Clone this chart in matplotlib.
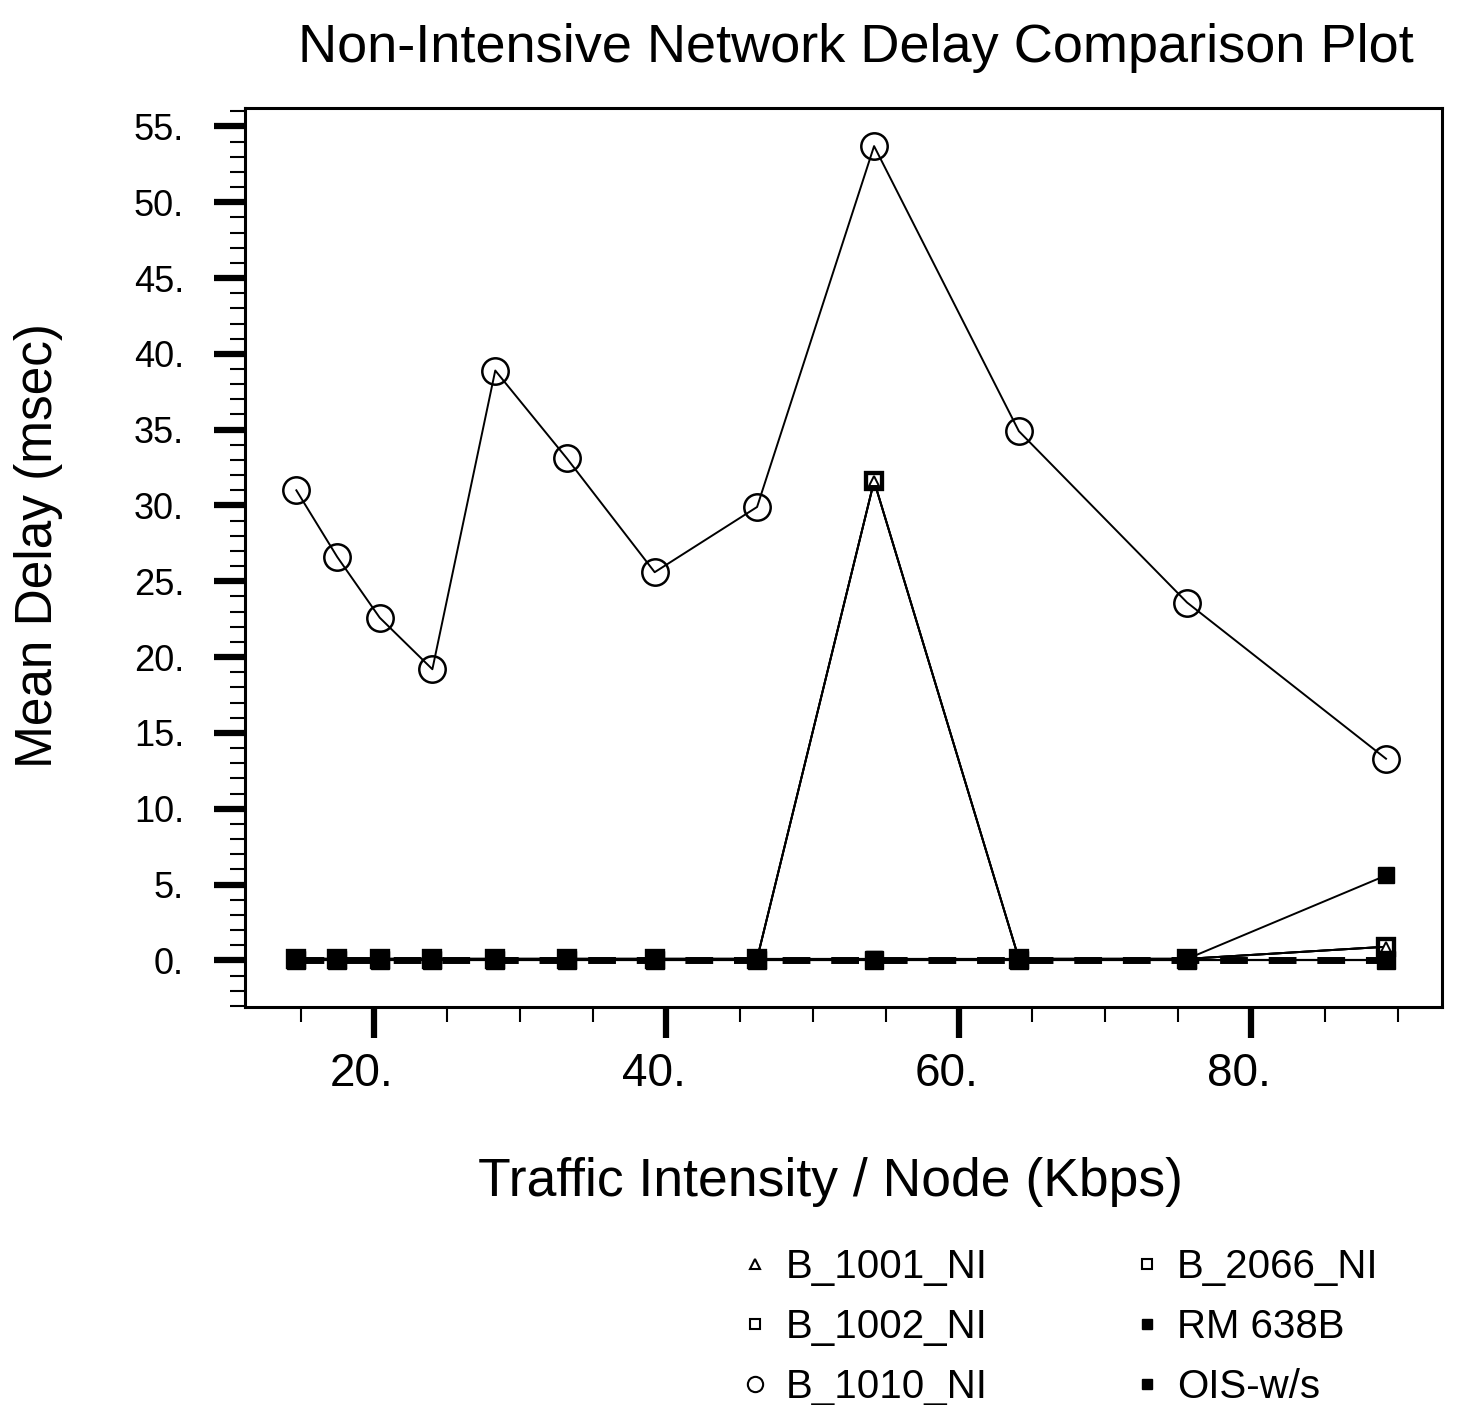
import matplotlib
matplotlib.use("Agg")
import matplotlib.pyplot as plt
from matplotlib.lines import Line2D
from matplotlib.ticker import MultipleLocator, FixedLocator
from matplotlib.transforms import ScaledTranslation

plt.rcParams["font.family"] = ["Liberation Sans", "DejaVu Sans"]

# ---------------------------------------------------------------------------
# data
# ---------------------------------------------------------------------------
traffic_kbps = [14.7, 17.5, 20.4, 24.0, 28.3, 33.2, 39.2, 46.2, 54.2, 64.1, 75.6, 89.2]

b_1001_ni = [0.1, 0.1, 0.1, 0.1, 0.1, 0.1, 0.1, 0.1, 31.6, 0.1, 0.1, 0.9]
b_1002_ni = [0.1, 0.1, 0.1, 0.1, 0.1, 0.1, 0.1, 0.1, 31.6, 0.1, 0.1, 0.9]
b_1010_ni = [31.0, 26.6, 22.6, 19.2, 38.9, 33.1, 25.6, 29.9, 53.7, 34.9, 23.6, 13.3]
b_2066_ni = [0.1, 0.1, 0.1, 0.1, 0.1, 0.1, 0.1, 0.1, 31.6, 0.1, 0.1, 0.9]
rm_638b = [0.1, 0.1, 0.1, 0.1, 0.1, 0.1, 0.1, 0.1, 0.1, 0.1, 0.1, 5.6]
ois_ws = [0.0, 0.0, 0.0, 0.0, 0.0, 0.0, 0.0, 0.0, 0.0, 0.0, 0.0, 0.0]

x_major = [20, 40, 60, 80]
y_major = [0, 5, 10, 15, 20, 25, 30, 35, 40, 45, 50, 55]

legend_labels = ["B_1001_NI", "B_1002_NI", "B_1010_NI",
                 "B_2066_NI", "RM 638B", "OIS-w/s"]

# ---------------------------------------------------------------------------
fig = plt.figure(figsize=(14.68, 14.05), dpi=100)
ax = fig.add_axes([0.167, 0.283, 0.815, 0.64])

# open markers underneath, filled bottom markers drawn over them
ax.plot(traffic_kbps, b_2066_ni, color="black", lw=1.4,
        marker="s", ms=11, mfc="white", mec="black", mew=3, zorder=3)
ax.plot(traffic_kbps, b_1002_ni, color="black", lw=1.4,
        marker="s", ms=11, mfc="none", mec="black", mew=3, zorder=3)
ax.plot(traffic_kbps, b_1001_ni, color="black", lw=1.4,
        marker="^", ms=7, mfc="white", mec="black", mew=1.4, zorder=4)
ax.plot(traffic_kbps, ois_ws, color="black", lw=5, ls=(0, (4, 3)),
        marker="s", ms=13, mfc="black", mec="black", zorder=5)
ax.plot(traffic_kbps, ois_ws, color="black", lw=1.6, zorder=5)
ax.plot(traffic_kbps, rm_638b, color="black", lw=1.4,
        marker="s", ms=11, mfc="black", mec="black", zorder=5)
ax.plot(traffic_kbps, b_1010_ni, color="black", lw=1.4,
        marker="o", ms=19, mfc="none", mec="black", mew=1.8, zorder=6)

ax.set_xlim(11.2, 93.0)
ax.set_ylim(-3.1, 56.2)

ax.xaxis.set_major_locator(FixedLocator(x_major))
ax.xaxis.set_minor_locator(MultipleLocator(5))
ax.yaxis.set_major_locator(FixedLocator(y_major))
ax.yaxis.set_minor_locator(MultipleLocator(1))
ax.set_xticklabels([f"{v}." for v in x_major], fontsize=33)
ax.set_yticklabels([f"{v}." for v in y_major], fontsize=26)

ax.tick_params(axis="both", which="major", direction="out",
               length=22, width=4.5, top=False, right=False)
ax.tick_params(axis="both", which="minor", direction="out",
               length=11, width=1.5, top=False, right=False)
ax.tick_params(axis="y", which="major", pad=22)
ax.tick_params(axis="x", which="major", pad=10)

# x labels sit a little left of their ticks in the original
shift = ScaledTranslation(-12 / 100, 0, fig.dpi_scale_trans)
for lab in ax.get_xticklabels():
    lab.set_transform(lab.get_transform() + shift)

for side in ["left", "bottom", "top", "right"]:
    ax.spines[side].set_linewidth(2.2)

# titles / axis labels
fig.text(0.583, 0.966, "Non-Intensive Network Delay Comparison Plot",
         ha="center", va="center", fontsize=39)
fig.text(0.566, 0.159, "Traffic Intensity / Node (Kbps)",
         ha="center", va="center", fontsize=38.5)
fig.text(0.026, 0.612, "Mean Delay (msec)", rotation=90,
         ha="center", va="center", fontsize=37)

# legend (small markers, no lines)
handles = [
    Line2D([], [], ls="none", marker="^", ms=7, mfc="white", mec="black", mew=1.5),
    Line2D([], [], ls="none", marker="s", ms=7, mfc="white", mec="black", mew=1.5),
    Line2D([], [], ls="none", marker="o", ms=11, mfc="white", mec="black", mew=1.5),
    Line2D([], [], ls="none", marker="s", ms=7, mfc="white", mec="black", mew=1.5),
    Line2D([], [], ls="none", marker="s", ms=7, mfc="black", mec="black"),
    Line2D([], [], ls="none", marker="s", ms=7, mfc="black", mec="black"),
]
fig.legend(handles, legend_labels, ncol=2, loc="upper left",
           bbox_to_anchor=(0.505, 0.112), frameon=False, fontsize=29,
           handlelength=0.7, handletextpad=0.4, columnspacing=3.6,
           labelspacing=0.55, borderaxespad=0, borderpad=0)

fig.savefig("out.png", dpi=100, facecolor="white")
